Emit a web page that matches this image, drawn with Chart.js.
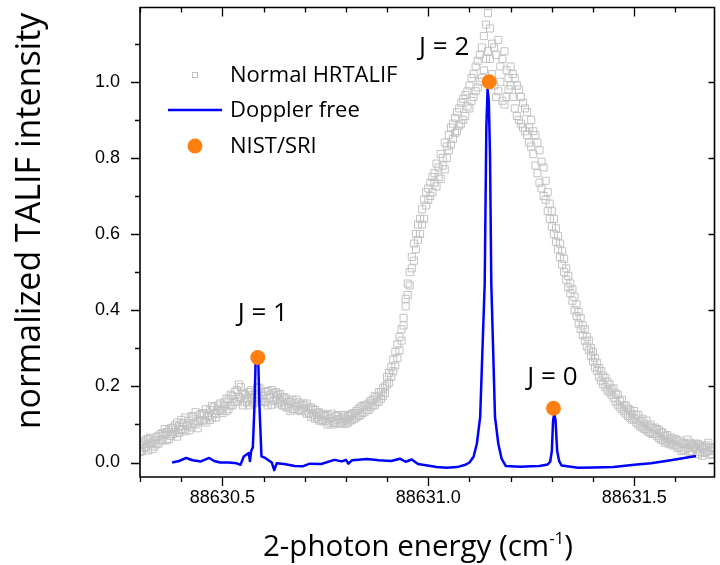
<!DOCTYPE html>
<html>
<head>
<meta charset="utf-8">
<script src="https://cdn.jsdelivr.net/npm/chart.js@4.4.1/dist/chart.umd.min.js"></script>
<style>
html, body { margin: 0; padding: 0; background: #fff; overflow: hidden; }
#wrap { width: 722px; height: 565px; }
</style>
</head>
<body>
<div id="wrap"><canvas id="chart" width="722" height="565"></canvas></div>
<script>
// Normal HRTALIF scans (2-photon energy in cm-1, normalized intensity)
const hrtalifX = [
  88630.300, 88630.305, 88630.310, 88630.315, 88630.320, 88630.325, 88630.330, 88630.335, 88630.340, 88630.345,
  88630.350, 88630.355, 88630.360, 88630.365, 88630.370, 88630.375, 88630.380, 88630.385, 88630.390, 88630.395,
  88630.400, 88630.405, 88630.410, 88630.415, 88630.420, 88630.425, 88630.430, 88630.435, 88630.440, 88630.445,
  88630.450, 88630.455, 88630.460, 88630.465, 88630.470, 88630.475, 88630.480, 88630.485, 88630.490, 88630.495,
  88630.500, 88630.505, 88630.510, 88630.515, 88630.520, 88630.525, 88630.530, 88630.535, 88630.540, 88630.545,
  88630.550, 88630.555, 88630.560, 88630.565, 88630.570, 88630.575, 88630.580, 88630.585, 88630.590, 88630.595,
  88630.600, 88630.605, 88630.610, 88630.615, 88630.620, 88630.625, 88630.630, 88630.635, 88630.640, 88630.645,
  88630.650, 88630.655, 88630.660, 88630.665, 88630.670, 88630.675, 88630.680, 88630.685, 88630.690, 88630.695,
  88630.700, 88630.705, 88630.710, 88630.715, 88630.720, 88630.725, 88630.730, 88630.735, 88630.740, 88630.745,
  88630.750, 88630.755, 88630.760, 88630.765, 88630.770, 88630.775, 88630.780, 88630.785, 88630.790, 88630.795,
  88630.800, 88630.805, 88630.810, 88630.815, 88630.820, 88630.825, 88630.830, 88630.835, 88630.840, 88630.845,
  88630.850, 88630.855, 88630.860, 88630.865, 88630.870, 88630.875, 88630.880, 88630.885, 88630.890, 88630.895,
  88630.900, 88630.905, 88630.910, 88630.915, 88630.920, 88630.925, 88630.930, 88630.935, 88630.940, 88630.945,
  88630.950, 88630.955, 88630.960, 88630.965, 88630.970, 88630.975, 88630.980, 88630.985, 88630.990, 88630.995,
  88631.000, 88631.005, 88631.010, 88631.015, 88631.020, 88631.025, 88631.030, 88631.035, 88631.040, 88631.045,
  88631.050, 88631.055, 88631.060, 88631.065, 88631.070, 88631.075, 88631.080, 88631.085, 88631.090, 88631.095,
  88631.100, 88631.105, 88631.110, 88631.115, 88631.120, 88631.125, 88631.130, 88631.135, 88631.140, 88631.145,
  88631.150, 88631.155, 88631.160, 88631.165, 88631.170, 88631.175, 88631.180, 88631.185, 88631.190, 88631.195,
  88631.200, 88631.205, 88631.210, 88631.215, 88631.220, 88631.225, 88631.230, 88631.235, 88631.240, 88631.245,
  88631.250, 88631.255, 88631.260, 88631.265, 88631.270, 88631.275, 88631.280, 88631.285, 88631.290, 88631.295,
  88631.300, 88631.305, 88631.310, 88631.315, 88631.320, 88631.325, 88631.330, 88631.335, 88631.340, 88631.345,
  88631.350, 88631.355, 88631.360, 88631.365, 88631.370, 88631.375, 88631.380, 88631.385, 88631.390, 88631.395,
  88631.400, 88631.405, 88631.410, 88631.415, 88631.420, 88631.425, 88631.430, 88631.435, 88631.440, 88631.445,
  88631.450, 88631.455, 88631.460, 88631.465, 88631.470, 88631.475, 88631.480, 88631.485, 88631.490, 88631.495,
  88631.500, 88631.505, 88631.510, 88631.515, 88631.520, 88631.525, 88631.530, 88631.535, 88631.540, 88631.545,
  88631.550, 88631.555, 88631.560, 88631.565, 88631.570, 88631.575, 88631.580, 88631.585, 88631.590, 88631.595,
  88631.600, 88631.605, 88631.610, 88631.615, 88631.620, 88631.625, 88631.630, 88631.635, 88631.640, 88631.645,
  88631.650, 88631.655, 88631.660, 88631.665, 88631.670, 88631.675, 88631.680, 88631.685, 88631.690, 88631.695
];
const hrtalifScan1 = [
  0.045, 0.030, 0.055, 0.040, 0.062, 0.048, 0.035, 0.058, 0.066, 0.050,
  0.060, 0.078, 0.072, 0.058, 0.085, 0.070, 0.092, 0.080, 0.068, 0.095,
  0.086, 0.104, 0.082, 0.098, 0.110, 0.092, 0.120, 0.100, 0.108, 0.125,
  0.112, 0.130, 0.105, 0.125, 0.138, 0.118, 0.145, 0.128, 0.150, 0.135,
  0.142, 0.158, 0.135, 0.165, 0.150, 0.175, 0.160, 0.190, 0.205, 0.168,
  0.150, 0.178, 0.160, 0.185, 0.168, 0.155, 0.180, 0.172, 0.195, 0.162,
  0.175, 0.158, 0.188, 0.170, 0.152, 0.182, 0.165, 0.178, 0.160, 0.172,
  0.150, 0.168, 0.145, 0.160, 0.140, 0.155, 0.165, 0.138, 0.150, 0.142,
  0.135, 0.155, 0.130, 0.145, 0.125, 0.138, 0.118, 0.132, 0.112, 0.128,
  0.110, 0.125, 0.105, 0.118, 0.100, 0.122, 0.112, 0.104, 0.120, 0.108,
  0.115, 0.105, 0.125, 0.112, 0.130, 0.118, 0.140, 0.125, 0.148, 0.132,
  0.138, 0.155, 0.145, 0.165, 0.150, 0.172, 0.160, 0.185, 0.175, 0.200,
  0.205, 0.235, 0.225, 0.270, 0.255, 0.310, 0.295, 0.350, 0.380, 0.410,
  0.440, 0.500, 0.510, 0.575, 0.560, 0.625, 0.600, 0.665, 0.640, 0.710,
  0.690, 0.735, 0.710, 0.760, 0.725, 0.775, 0.745, 0.800, 0.770, 0.830,
  0.820, 0.880, 0.850, 0.905, 0.870, 0.930, 0.890, 0.955, 0.910, 0.975,
  0.930, 1.010, 0.960, 1.040, 0.985, 1.070, 1.010, 1.120, 1.060, 1.180,
  1.140, 1.020, 1.090, 0.960, 1.110, 1.000, 1.060, 0.940, 1.030, 0.980,
  1.040, 0.960, 1.010, 0.910, 0.980, 0.890, 0.945, 0.870, 0.920, 0.840,
  0.900, 0.810, 0.860, 0.760, 0.820, 0.720, 0.775, 0.690, 0.710, 0.640,
  0.660, 0.600, 0.615, 0.560, 0.575, 0.520, 0.535, 0.480, 0.490, 0.445,
  0.455, 0.400, 0.415, 0.365, 0.380, 0.335, 0.350, 0.305, 0.320, 0.280,
  0.290, 0.250, 0.262, 0.225, 0.240, 0.205, 0.222, 0.190, 0.205, 0.178,
  0.195, 0.160, 0.178, 0.145, 0.165, 0.135, 0.150, 0.122, 0.138, 0.112,
  0.135, 0.105, 0.125, 0.095, 0.115, 0.088, 0.110, 0.080, 0.100, 0.075,
  0.092, 0.070, 0.085, 0.060, 0.078, 0.052, 0.072, 0.048, 0.066, 0.045,
  0.062, 0.038, 0.058, 0.030, 0.052, 0.035, 0.060, 0.028, 0.048, 0.040,
  0.050, 0.022, 0.045, 0.018, 0.040, 0.028, 0.052, 0.020, 0.038, 0.030
];
const hrtalifScan2 = [
  0.028, 0.050, 0.038, 0.060, 0.032, 0.065, 0.052, 0.042, 0.048, 0.070,
  0.075, 0.058, 0.088, 0.080, 0.062, 0.090, 0.075, 0.098, 0.105, 0.078,
  0.112, 0.088, 0.118, 0.095, 0.085, 0.122, 0.102, 0.132, 0.090, 0.110,
  0.128, 0.110, 0.140, 0.122, 0.112, 0.148, 0.130, 0.118, 0.138, 0.155,
  0.130, 0.148, 0.168, 0.140, 0.178, 0.150, 0.185, 0.160, 0.172, 0.198,
  0.182, 0.158, 0.170, 0.150, 0.190, 0.178, 0.160, 0.198, 0.168, 0.185,
  0.160, 0.185, 0.150, 0.178, 0.190, 0.162, 0.185, 0.155, 0.180, 0.150,
  0.172, 0.145, 0.160, 0.135, 0.165, 0.140, 0.148, 0.158, 0.135, 0.155,
  0.150, 0.128, 0.142, 0.120, 0.140, 0.115, 0.130, 0.110, 0.125, 0.108,
  0.122, 0.100, 0.115, 0.128, 0.108, 0.104, 0.125, 0.115, 0.102, 0.125,
  0.102, 0.122, 0.110, 0.128, 0.115, 0.135, 0.122, 0.145, 0.130, 0.150,
  0.150, 0.138, 0.162, 0.150, 0.175, 0.158, 0.185, 0.168, 0.195, 0.182,
  0.225, 0.210, 0.250, 0.240, 0.290, 0.275, 0.330, 0.320, 0.360, 0.430,
  0.470, 0.465, 0.540, 0.530, 0.600, 0.585, 0.640, 0.625, 0.690, 0.675,
  0.720, 0.700, 0.750, 0.735, 0.785, 0.750, 0.810, 0.780, 0.840, 0.800,
  0.860, 0.835, 0.890, 0.865, 0.920, 0.885, 0.945, 0.900, 0.965, 0.935,
  0.990, 0.950, 1.020, 0.975, 1.055, 1.000, 1.090, 1.030, 1.150, 1.080,
  1.060, 1.100, 0.990, 1.070, 0.975, 1.040, 0.950, 1.080, 0.960, 1.010,
  0.990, 1.020, 0.930, 0.990, 0.900, 0.960, 0.880, 0.930, 0.860, 0.880,
  0.830, 0.870, 0.780, 0.840, 0.735, 0.790, 0.700, 0.740, 0.660, 0.680,
  0.620, 0.640, 0.580, 0.595, 0.540, 0.555, 0.500, 0.510, 0.460, 0.470,
  0.425, 0.435, 0.385, 0.395, 0.350, 0.360, 0.320, 0.330, 0.295, 0.300,
  0.265, 0.275, 0.240, 0.248, 0.215, 0.228, 0.198, 0.212, 0.185, 0.192,
  0.170, 0.182, 0.152, 0.162, 0.140, 0.150, 0.128, 0.142, 0.118, 0.128,
  0.115, 0.125, 0.100, 0.110, 0.092, 0.102, 0.085, 0.095, 0.078, 0.090,
  0.075, 0.088, 0.065, 0.080, 0.058, 0.070, 0.055, 0.062, 0.050, 0.058,
  0.045, 0.055, 0.040, 0.050, 0.032, 0.048, 0.038, 0.052, 0.030, 0.045,
  0.035, 0.048, 0.028, 0.042, 0.025, 0.045, 0.030, 0.040, 0.022, 0.035
];

// Doppler free scan
const dopplerX = [
  88630.378, 88630.395, 88630.412, 88630.428, 88630.448, 88630.468, 88630.480, 88630.495, 88630.516, 88630.535,
  88630.544, 88630.552, 88630.564, 88630.567, 88630.570, 88630.574, 88630.578, 88630.581, 88630.584, 88630.587,
  88630.590, 88630.595, 88630.604, 88630.620, 88630.626, 88630.632, 88630.650, 88630.676, 88630.695, 88630.712,
  88630.740, 88630.772, 88630.790, 88630.800, 88630.806, 88630.815, 88630.852, 88630.880, 88630.910, 88630.931,
  88630.945, 88630.960, 88630.975, 88630.998, 88631.020, 88631.044, 88631.070, 88631.090, 88631.100, 88631.110,
  88631.118, 88631.126, 88631.137, 88631.141, 88631.144, 88631.147, 88631.150, 88631.153, 88631.162, 88631.170,
  88631.178, 88631.188, 88631.224, 88631.250, 88631.270, 88631.290, 88631.296, 88631.300, 88631.303, 88631.306,
  88631.309, 88631.313, 88631.318, 88631.324, 88631.364, 88631.400, 88631.450, 88631.500, 88631.541, 88631.600,
  88631.650
];
const dopplerY = [
  0.000, 0.004, 0.012, 0.006, 0.003, 0.012, 0.004, 0.000, 0.000, -0.002,
  -0.006, 0.016, 0.025, 0.004, 0.030, 0.040, 0.150, 0.275, 0.283, 0.275,
  0.150, 0.016, 0.012, 0.000, -0.020, -0.002, -0.004, -0.009, -0.010, -0.003,
  -0.004, 0.007, 0.003, 0.007, -0.003, 0.006, 0.009, 0.006, 0.004, 0.010,
  0.002, 0.008, -0.004, -0.008, -0.012, -0.014, -0.012, -0.006, 0.000, 0.015,
  0.050, 0.120, 0.470, 0.880, 0.980, 0.950, 0.800, 0.470, 0.120, 0.050,
  0.010, -0.009, -0.011, -0.010, -0.009, -0.005, 0.002, 0.030, 0.110, 0.130,
  0.110, 0.030, 0.003, -0.008, -0.014, -0.013, -0.012, -0.006, -0.002, 0.008,
  0.017
];

// NIST/SRI line positions
const nistX = [88630.586, 88631.148, 88631.304];
const nistY = [0.276, 1.000, 0.1425];
const nistLabels = ['J = 1', 'J = 2', 'J = 0'];

// axis ticks
const xMajorTicks = [88630.5, 88631.0, 88631.5];
const xMinorTicks = [88630.3, 88630.4, 88630.6, 88630.7, 88630.8, 88630.9, 88631.1, 88631.2, 88631.3, 88631.4, 88631.6];
const yMajorTicks = [0.0, 0.2, 0.4, 0.6, 0.8, 1.0];
const yMinorTicks = [0.1, 0.3, 0.5, 0.7, 0.9, 1.1];

const TEXT_FONT = '"Open Sans", "DejaVu Sans", sans-serif';
const TICK_FONT = '"Liberation Sans", Arial, sans-serif';

const toPoints = (xs, ys) => xs.map((x, i) => ({ x: x, y: ys[i] }));

// frame, ticks, titles, legend and J labels
const decor = {
  id: 'decor',
  afterDraw(chart) {
    const { ctx, scales: { x, y } } = chart;
    const L = x.left, R = x.right, T = y.top, B = y.bottom;
    ctx.save();

    // frame box
    ctx.strokeStyle = '#000000';
    ctx.lineWidth = 1.6;
    ctx.beginPath();
    ctx.moveTo(L, T); ctx.lineTo(R, T); ctx.lineTo(R, B); ctx.lineTo(L, B); ctx.closePath();
    ctx.stroke();

    // ticks: outer on left/bottom, inner on top/right
    ctx.lineWidth = 1.3;
    ctx.beginPath();
    const xt = (v, len) => {
      const px = Math.round(x.getPixelForValue(v)) + 0.5;
      ctx.moveTo(px, B); ctx.lineTo(px, B + len);
      ctx.moveTo(px, T); ctx.lineTo(px, T + len);
    };
    xMajorTicks.forEach(v => xt(v, 9));
    xMinorTicks.forEach(v => xt(v, 5));
    yMajorTicks.forEach(v => {
      const py = Math.round(y.getPixelForValue(v)) + 0.5;
      ctx.moveTo(L, py); ctx.lineTo(L - 9, py);
      ctx.moveTo(R, py); ctx.lineTo(R - 6, py);
    });
    yMinorTicks.forEach(v => {
      const py = Math.round(y.getPixelForValue(v)) + 0.5;
      ctx.moveTo(L, py); ctx.lineTo(L - 5, py);
    });
    ctx.stroke();

    // y title
    ctx.fillStyle = '#000';
    ctx.save();
    ctx.translate(40, 221);
    ctx.rotate(-Math.PI / 2);
    ctx.font = '34px ' + TEXT_FONT;
    ctx.textAlign = 'center';
    ctx.textBaseline = 'alphabetic';
    ctx.fillText('normalized TALIF intensity', 0, 0);
    ctx.restore();

    // x title with superscript
    ctx.textBaseline = 'alphabetic';
    ctx.textAlign = 'left';
    const main = '2-photon energy (cm';
    ctx.font = '29.5px ' + TEXT_FONT;
    const w1 = ctx.measureText(main).width;
    const w3 = ctx.measureText(')').width;
    ctx.font = '17px ' + TEXT_FONT;
    const w2 = ctx.measureText('-1').width;
    const sx = 418 - (w1 + w2 + w3) / 2;
    const base = 556;
    ctx.font = '29.5px ' + TEXT_FONT;
    ctx.fillText(main, sx, base);
    ctx.font = '17px ' + TEXT_FONT;
    ctx.fillText('-1', sx + w1, base - 12);
    ctx.font = '29.5px ' + TEXT_FONT;
    ctx.fillText(')', sx + w1 + w2, base);

    // legend
    const ds = chart.data.datasets;
    const rows = [
      { ds: ds[3], y: 75 },
      { ds: ds[1], y: 110 },
      { ds: ds[0], y: 146 }
    ];
    rows.forEach(r => {
      if (r.ds.showLine) {
        ctx.strokeStyle = r.ds.borderColor;
        ctx.lineWidth = r.ds.borderWidth;
        ctx.beginPath(); ctx.moveTo(168, r.y); ctx.lineTo(222, r.y); ctx.stroke();
      } else if (r.ds.pointStyle === 'rect') {
        ctx.strokeStyle = r.ds.pointBorderColor;
        ctx.lineWidth = 1;
        ctx.strokeRect(192.5, r.y - 2.5, 5, 5);
      } else {
        ctx.fillStyle = r.ds.pointBackgroundColor;
        ctx.beginPath(); ctx.arc(195, r.y, 7.5, 0, Math.PI * 2); ctx.fill();
      }
      ctx.fillStyle = '#000';
      ctx.font = '22px ' + TEXT_FONT;
      ctx.textBaseline = 'middle';
      ctx.textAlign = 'left';
      ctx.fillText(r.ds.label, 230, r.y + 1);
    });

    // J labels above the NIST/SRI points
    const offsets = [[5, -44], [-45, -34], [-1, -31]];
    ctx.font = '26px ' + TEXT_FONT;
    ctx.textAlign = 'center';
    ctx.textBaseline = 'middle';
    nistLabels.forEach((t, i) => {
      const px = x.getPixelForValue(nistX[i]) + offsets[i][0];
      const py = y.getPixelForValue(nistY[i]) + offsets[i][1];
      ctx.fillText(t, px, py);
    });
    ctx.restore();
  }
};

const grayStyle = {
  showLine: false,
  pointStyle: 'rect',
  pointRadius: 5,
  pointBorderColor: '#c2c2c2',
  pointBackgroundColor: 'rgba(0,0,0,0)',
  pointBorderWidth: 1
};

new Chart(document.getElementById('chart'), {
  type: 'scatter',
  data: {
    datasets: [
      {
        label: 'NIST/SRI',
        data: toPoints(nistX, nistY),
        pointStyle: 'circle',
        pointRadius: 7.5,
        pointBackgroundColor: '#ff8010',
        pointBorderWidth: 0,
        showLine: false
      },
      {
        label: 'Doppler free',
        data: toPoints(dopplerX, dopplerY),
        showLine: true,
        borderColor: '#0000ff',
        borderWidth: 2.5,
        pointRadius: 0,
        tension: 0,
        borderJoinStyle: 'round'
      },
      Object.assign({ label: 'Normal HRTALIF scan 2', data: toPoints(hrtalifX, hrtalifScan2) }, grayStyle),
      Object.assign({ label: 'Normal HRTALIF', data: toPoints(hrtalifX, hrtalifScan1) }, grayStyle)
    ]
  },
  options: {
    responsive: false,
    devicePixelRatio: 1,
    animation: false,
    layout: { padding: { left: 0, top: 7, right: 1, bottom: 0 } },
    plugins: { legend: { display: false }, tooltip: { enabled: false } },
    scales: {
      x: {
        type: 'linear',
        min: 88630.3,
        max: 88631.695,
        grid: { display: false },
        border: { display: false },
        afterBuildTicks: s => { s.ticks = xMajorTicks.map(v => ({ value: v })); },
        afterFit: s => { s.height = 88; s.paddingLeft = 0; s.paddingRight = 0; },
        ticks: {
          font: { family: TICK_FONT, size: 18 },
          color: '#000',
          padding: 2,
          maxRotation: 0,
          autoSkip: false,
          callback: v => v.toFixed(1)
        }
      },
      y: {
        type: 'linear',
        min: -0.038,
        max: 1.195,
        grid: { display: false },
        border: { display: false },
        afterBuildTicks: s => { s.ticks = yMajorTicks.map(v => ({ value: v })); },
        afterFit: s => { s.width = 140; s.paddingTop = 0; s.paddingBottom = 0; },
        ticks: {
          font: { family: TICK_FONT, size: 18 },
          color: '#000',
          padding: 12,
          callback: v => v.toFixed(1)
        }
      }
    }
  },
  plugins: [decor]
});
</script>
</body>
</html>
